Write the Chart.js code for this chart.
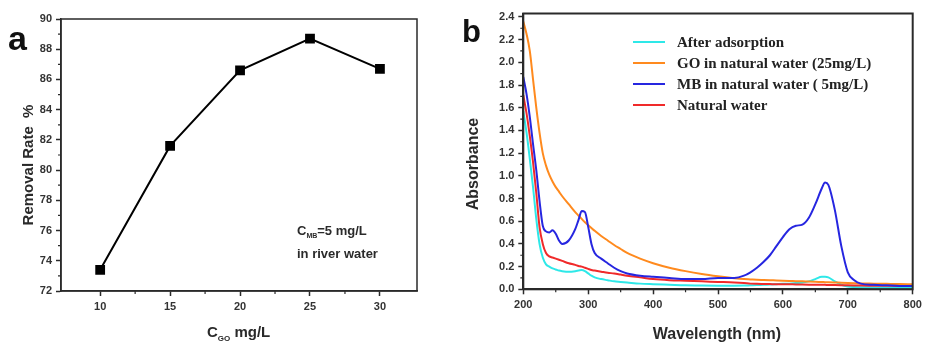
<!DOCTYPE html>
<html>
<head>
<meta charset="utf-8">
<script src="https://cdn.jsdelivr.net/npm/chart.js@4"></script>
<style>
  body { margin: 0; background: #fff; }
  #wrap { position: relative; width: 926px; height: 345px; }
  canvas { position: absolute; top: 0; }
</style>
</head>
<body>
<div id="wrap">
  <canvas id="chartA" width="460" height="345" style="left:0"></canvas>
  <canvas id="chartB" width="466" height="345" style="left:460px"></canvas>
</div>
<script>
// panel a: removal rate vs GO dose
const goDose = [10, 15, 20, 25, 30];
const removalRate = [73.4, 81.6, 86.6, 88.7, 86.7];
const xTicksA = [10, 15, 20, 25, 30];
const yTicksA = [72, 74, 76, 78, 80, 82, 84, 86, 88, 90];

// panel b: UV-vis spectra
const wavelength = [200, 205, 210, 215, 220, 225, 230, 235, 240, 245, 250, 255, 260, 270, 280, 285, 290, 295, 300, 305, 310, 320, 330, 340, 350, 360, 380, 400, 425, 450, 475, 500, 525, 540, 550, 560, 570, 580, 590, 600, 610, 620, 630, 640, 650, 660, 665, 670, 680, 690, 700, 710, 720, 740, 760, 780, 800];
const afterAdsorption = [1.57, 1.38, 1.15, 0.90, 0.62, 0.40, 0.28, 0.22, 0.20, 0.185, 0.175, 0.165, 0.16, 0.155, 0.16, 0.165, 0.17, 0.16, 0.14, 0.12, 0.105, 0.09, 0.08, 0.07, 0.065, 0.06, 0.05, 0.045, 0.04, 0.035, 0.033, 0.032, 0.032, 0.033, 0.035, 0.037, 0.04, 0.042, 0.045, 0.048, 0.05, 0.055, 0.06, 0.07, 0.09, 0.11, 0.11, 0.105, 0.07, 0.04, 0.025, 0.02, 0.018, 0.016, 0.015, 0.015, 0.015];
const goWater = [2.36, 2.25, 2.10, 1.85, 1.60, 1.38, 1.20, 1.09, 1.01, 0.95, 0.90, 0.86, 0.82, 0.75, 0.68, 0.65, 0.62, 0.59, 0.565, 0.54, 0.515, 0.47, 0.43, 0.39, 0.355, 0.32, 0.27, 0.23, 0.19, 0.16, 0.135, 0.115, 0.098, 0.09, 0.087, 0.084, 0.082, 0.08, 0.078, 0.076, 0.074, 0.072, 0.07, 0.068, 0.066, 0.064, 0.063, 0.062, 0.06, 0.058, 0.056, 0.054, 0.052, 0.05, 0.048, 0.046, 0.045];
const mbWater = [1.87, 1.72, 1.52, 1.28, 1.05, 0.78, 0.56, 0.51, 0.50, 0.52, 0.49, 0.43, 0.40, 0.43, 0.53, 0.61, 0.69, 0.68, 0.55, 0.40, 0.32, 0.27, 0.23, 0.19, 0.16, 0.14, 0.12, 0.11, 0.10, 0.09, 0.09, 0.10, 0.10, 0.12, 0.15, 0.19, 0.24, 0.30, 0.38, 0.46, 0.53, 0.56, 0.57, 0.63, 0.75, 0.89, 0.94, 0.92, 0.70, 0.38, 0.15, 0.08, 0.05, 0.04, 0.035, 0.03, 0.03];
const naturalWater = [1.71, 1.55, 1.35, 1.12, 0.85, 0.55, 0.40, 0.32, 0.29, 0.28, 0.27, 0.26, 0.25, 0.23, 0.215, 0.205, 0.20, 0.19, 0.18, 0.17, 0.165, 0.155, 0.145, 0.14, 0.13, 0.12, 0.105, 0.09, 0.08, 0.075, 0.07, 0.065, 0.06, 0.055, 0.05, 0.048, 0.047, 0.046, 0.045, 0.045, 0.044, 0.043, 0.042, 0.041, 0.04, 0.04, 0.039, 0.038, 0.037, 0.036, 0.035, 0.034, 0.033, 0.032, 0.031, 0.03, 0.03];
const seriesLabels = ["After adsorption", "GO in natural water (25mg/L)", "MB in natural water ( 5mg/L)", "Natural water"];
const seriesColors = ["#2ee8e8", "#ff8a1e", "#2626e0", "#f02a2a"];
const xTicksB = [200, 300, 400, 500, 600, 700, 800];
const yTicksB = [0, 0.2, 0.4, 0.6, 0.8, 1.0, 1.2, 1.4, 1.6, 1.8, 2.0, 2.2, 2.4];

const SANS = "'Liberation Sans', Arial, sans-serif";
const SERIF = "'Liberation Serif', 'Times New Roman', serif";
const INK = "#2a2a2a";

function axisOpts(min, max, tickVals, size, fmt, lw) {
  return {
    type: "linear",
    min: min,
    max: max,
    afterBuildTicks: (s) => { s.ticks = tickVals.map((v) => ({ value: v })); },
    afterFit: (s) => { if (s.isHorizontal()) s.height = size; else s.width = size; },
    ticks: {
      autoSkip: false,
      maxRotation: 0,
      padding: 4,
      color: "#333",
      font: { family: SANS, size: 11, weight: "bold" },
      callback: fmt,
    },
    grid: { drawOnChartArea: false, drawTicks: true, tickLength: 5, tickColor: INK, tickWidth: 1.5 },
    border: { display: true, color: INK, width: lw },
  };
}

// frame and minor ticks
function frameMinor(minorX, minorY, lw) {
  return {
    id: "frameMinor",
    afterDraw(chart) {
      const { ctx, chartArea: a, scales } = chart;
      ctx.save();
      ctx.strokeStyle = INK;
      ctx.lineWidth = lw;
      ctx.strokeRect(a.left, a.top, a.right - a.left, a.bottom - a.top);
      ctx.lineWidth = 1.2;
      ctx.beginPath();
      minorX.forEach((v) => {
        const px = scales.x.getPixelForValue(v);
        ctx.moveTo(px, a.bottom); ctx.lineTo(px, a.bottom + 3);
      });
      minorY.forEach((v) => {
        const py = scales.y.getPixelForValue(v);
        ctx.moveTo(a.left, py); ctx.lineTo(a.left - 3, py);
      });
      ctx.stroke();
      ctx.restore();
    },
  };
}

// text with a subscript part
function drawSub(ctx, x, y, parts, size) {
  let cx = x;
  parts.forEach(([txt, sub]) => {
    ctx.font = "bold " + (sub ? Math.round(size * 0.55) : size) + "px " + SANS;
    ctx.fillText(txt, cx, sub ? y + size * 0.25 : y);
    cx += ctx.measureText(txt).width;
  });
}

const textA = {
  id: "textA",
  afterDraw(chart) {
    const ctx = chart.ctx;
    ctx.save();
    ctx.fillStyle = "#111";
    ctx.textBaseline = "alphabetic";
    ctx.textAlign = "left";
    ctx.font = "bold 34px " + SANS;
    ctx.fillText("a", 8, 50);
    ctx.fillStyle = INK;
    drawSub(ctx, 297, 235, [["C", false], ["MB", true], ["=5 mg/L", false]], 13);
    ctx.font = "bold 13px " + SANS;
    ctx.fillText("in river water", 297, 258);
    drawSub(ctx, 207, 337, [["C", false], ["GO", true], [" mg/L", false]], 15);
    ctx.translate(33, 165);
    ctx.rotate(-Math.PI / 2);
    ctx.textAlign = "center";
    ctx.font = "bold 15px " + SANS;
    ctx.fillText("Removal Rate  %", 0, 0);
    ctx.restore();
  },
};

new Chart(document.getElementById("chartA"), {
  type: "line",
  data: {
    datasets: [{
      data: goDose.map((x, i) => ({ x: x, y: removalRate[i] })),
      borderColor: "#000",
      backgroundColor: "#000",
      borderWidth: 2,
      pointStyle: "rect",
      pointRadius: 5.5,
      tension: 0,
    }],
  },
  options: {
    responsive: false,
    animation: false,
    devicePixelRatio: 1,
    layout: { padding: { left: 0, top: 19, right: 43, bottom: 0 } },
    plugins: { legend: { display: false }, tooltip: { enabled: false } },
    scales: {
      x: axisOpts(7.2, 32.65, xTicksA, 54, (v) => v, 1.5),
      y: axisOpts(72, 90, yTicksA, 61, (v) => v, 1.5),
    },
  },
  plugins: [frameMinor([12.5, 17.5, 22.5, 27.5], [73, 75, 77, 79, 81, 83, 85, 87, 89], 1.5), textA],
});

const textB = {
  id: "textB",
  afterDraw(chart) {
    const ctx = chart.ctx;
    ctx.save();
    ctx.fillStyle = "#111";
    ctx.textAlign = "left";
    ctx.textBaseline = "alphabetic";
    ctx.font = "bold 31px " + SANS;
    ctx.fillText("b", 2, 42);
    // legend
    ctx.textBaseline = "middle";
    ctx.font = "bold 15px " + SERIF;
    chart.data.datasets.forEach((ds, i) => {
      const y = 42 + i * 21;
      ctx.strokeStyle = ds.borderColor;
      ctx.lineWidth = 2;
      ctx.beginPath();
      ctx.moveTo(173, y); ctx.lineTo(205, y);
      ctx.stroke();
      ctx.fillStyle = "#222";
      ctx.fillText(ds.label, 217, y + 1);
    });
    ctx.fillStyle = INK;
    ctx.textAlign = "center";
    ctx.textBaseline = "alphabetic";
    ctx.font = "bold 16px " + SANS;
    ctx.fillText("Wavelength (nm)", 257, 339);
    ctx.translate(18, 164);
    ctx.rotate(-Math.PI / 2);
    ctx.fillText("Absorbance", 0, 0);
    ctx.restore();
  },
};

new Chart(document.getElementById("chartB"), {
  type: "line",
  data: {
    datasets: [afterAdsorption, goWater, mbWater, naturalWater].map((arr, k) => ({
      label: seriesLabels[k],
      data: wavelength.map((w, i) => ({ x: w, y: arr[i] })),
      borderColor: seriesColors[k],
      borderWidth: 2,
      pointRadius: 0,
      cubicInterpolationMode: "monotone",
      order: [3, 2, 0, 1][k],
    })),
  },
  options: {
    responsive: false,
    animation: false,
    devicePixelRatio: 1,
    layout: { padding: { left: 0, top: 13.5, right: 13.3, bottom: 0 } },
    plugins: { legend: { display: false }, tooltip: { enabled: false } },
    scales: {
      x: axisOpts(200, 800, xTicksB, 55.7, (v) => v, 2),
      y: axisOpts(0, 2.43, yTicksB, 63.3, (v) => v.toFixed(1), 2),
    },
  },
  plugins: [frameMinor([250, 350, 450, 550, 650, 750], [0.1, 0.3, 0.5, 0.7, 0.9, 1.1, 1.3, 1.5, 1.7, 1.9, 2.1, 2.3], 2), textB],
});
</script>
</body>
</html>
